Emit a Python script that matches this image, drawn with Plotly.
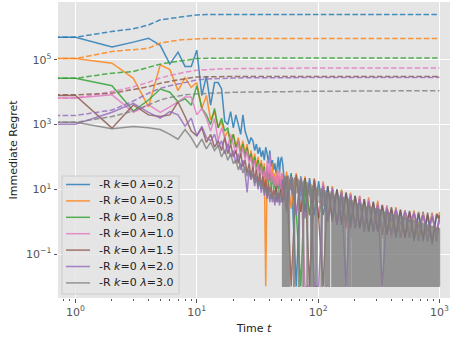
import plotly.graph_objects as go

# ---------------- data (log10 of regret) ----------------
LABELS = ["-R <i>k</i>=0 <i>λ</i>=0.2", "-R <i>k</i>=0 <i>λ</i>=0.5", "-R <i>k</i>=0 <i>λ</i>=0.8",
          "-R <i>k</i>=0 <i>λ</i>=1.0", "-R <i>k</i>=0 <i>λ</i>=1.5", "-R <i>k</i>=0 <i>λ</i>=2.0",
          "-R <i>k</i>=0 <i>λ</i>=3.0"]
COLORS = ["#1f77b4", "#ff7f0e", "#2ca02c", "#e377c2", "#8c564b", "#9467bd", "#7f7f7f"]

X_TICKS = [1, 10, 100, 1000]
X_TICK_TEXT = ["10<sup>0</sup>", "10<sup>1</sup>", "10<sup>2</sup>", "10<sup>3</sup>"]
Y_TICKS = [0.1, 10, 1000, 100000]
Y_TICK_TEXT = ["10<sup>−1</sup>", "10<sup>1</sup>", "10<sup>3</sup>", "10<sup>5</sup>"]

# time steps; 0.5 stands for the t=0 sample (outside a log axis)
T_HEAD = [0.5] + list(range(1, 51))
T_TAIL = [51, 55, 60, 66, 72, 78, 85, 93, 101, 110, 120, 131, 143, 156, 170, 185, 202, 220,
          240, 261, 285, 310, 338, 369, 402, 438, 477, 520, 567, 617, 673, 733, 799, 870, 948, 1000]
T_TAIL_GREY = (list(range(51, 101)) + list(range(102, 201, 2)) +
               list(range(204, 401, 4)) + list(range(408, 1001, 8)))
T_DASH = [0.5, 1, 2, 3, 4, 5, 6, 7, 8, 10, 12, 15, 20, 30, 50, 100, 1000]

BLUE_HEAD = [5.7, 5.7, 5.4, 5.55, 5.67, 5.45, 4.87, 5.24, 4.8, 4.8, 5.3,
             3.9, 4.5, 3.6, 4.3, 4.3, 4.1, 3.1, 3.0, 3.4, 2.9,
             3.3, 3.0, 2.7, 3.3, 2.8, 2.6, 2.4, 2.6, 2.5, 2.2,
             2.4, 2.1, 2.3, 2.0, 2.2, 1.9, 2.3, 2.1, 1.8, 2.2,
             1.7, 1.9, 1.6, 1.8, 1.5, 1.7, 2.0, 1.5, 1.9, 2.0]
ORANGE_HEAD = [5.04, 5.04, 4.9, 4.43, 3.55, 4.85, 4.7, 4.05, 4.45, 4.15, 4.3,
               3.5, 3.9, 3.15, 3.4, 2.9, 3.1, 2.6, 2.8, 2.5, 2.7,
               2.3, 2.6, 2.2, 2.5, 2.1, 2.4, 1.9, 2.2, 1.8, 2.1,
               1.7, 2.0, 1.6, 1.9, 1.5, 1.8, -2.0, 1.7, 1.4, 1.6,
               1.3, 1.8, 1.2, 1.5, 1.1, 1.6, 1.2, 1.4, 1.0, 1.5]
GREEN_HEAD = [4.43, 4.43, 4.2, 3.42, 3.76, 4.1, 4.0, 3.7, 3.8, 3.6, 4.2,
              3.5, 3.3, 3.0, 3.5, 2.9, 3.2, 2.8, 2.9, 2.4, 2.7,
              2.3, 2.5, 2.1, 2.4, 2.0, 2.3, 1.9, 2.1, 1.7, 2.0,
              1.6, 1.9, 1.5, 1.8, 1.4, 1.7, 1.3, 1.6, 1.2, 1.5,
              1.1, 1.4, 1.0, 1.3, 0.9, 1.2, 1.0, 1.3, 0.9, 1.2]
PINK_HEAD = [3.82, 3.82, 3.92, 3.38, 3.62, 3.38, 3.55, 3.7, 3.85, 3.85, 3.3,
             3.5, 3.2, 2.8, 3.2, 2.5, 2.9, 2.6, 2.3, 2.7, 2.4,
             2.1, 2.5, 2.0, 2.3, 1.9, 2.2, 1.8, 2.0, 1.6, 1.9,
             1.5, 1.8, 1.4, 1.7, 1.3, 1.6, 1.2, 1.9, 1.3, 2.1,
             1.2, 1.5, 1.1, 1.4, 1.0, 1.5, 1.1, 1.6, 1.0, 1.4]
BROWN_HEAD = [3.9, 3.9, 2.89, 3.61, 3.3, 3.25, 3.3, 3.7, 3.25, 2.8, 2.65,
              2.9, 2.45, 2.7, 2.3, 2.5, 2.2, 2.6, 2.1, 2.4, 2.0,
              2.2, 1.8, 2.1, 1.7, 1.9, 1.5, 1.8, 1.4, 1.7, 1.3,
              1.6, 1.2, 1.5, 1.1, 1.4, 1.0, 1.3, 0.8, 1.2, 0.9,
              1.1, 0.7, 1.0, 0.8, 1.1, 0.6, 0.9, 0.7, 1.0, 0.8]
PURPLE_HEAD = [3.01, 3.01, 3.38, 3.66, 3.38, 3.2, 3.4, 3.3, 2.95, 3.2, 2.65,
               2.95, 2.6, 2.5, 2.7, 2.3, 2.5, 2.1, 2.4, 2.0, 2.2,
               1.8, 2.1, 1.6, 1.9, 1.5, 0.9, 1.6, 1.3, 1.5, 1.1,
               1.4, 1.0, 1.3, 0.9, 1.2, 0.8, 1.1, 0.7, 1.0, 0.6,
               0.9, 0.6, 0.8, 0.5, 0.9, 0.6, 0.8, 0.5, 0.7, 0.6]
GREY_HEAD = [3.07, 3.07, 2.87, 2.94, 2.9, 2.85, 2.7, 2.55, 2.85, 2.6, 2.3,
             2.55, 2.25, 2.45, 2.2, 2.35, 2.0, 2.2, 1.9, 2.1, 1.8,
             1.9, 1.6, 1.8, 1.5, 1.7, 1.4, 1.6, 1.3, 1.5, 1.2,
             1.4, 1.1, 1.3, 1.0, 1.2, 0.9, 1.1, 0.8, 1.0, 0.7,
             0.9, 0.7, 0.8, 0.6, 0.9, 0.7, 1.0, 0.6, 0.9, 0.7]

BLUE_TAIL = [1.8, 0.5, 1.5, -2.0, 1.4, 0.3, 1.35, 0.2, 1.25, 0.2, 1.1, 0.1, 1.0, 0.0, 0.9, 0.0, 0.8, -0.2,
             0.7, -0.3, 0.6, -0.3, 0.5, -0.4, 0.4, -0.5, 0.35, -0.5, 0.3, -0.6, 0.25, -0.6, 0.2, -0.7, 0.2, 0.05]
ORANGE_TAIL = [0.6, 1.55, 0.4, 1.5, 0.3, 1.4, 0.2, 1.35, 0.1, 1.25, 0.0, 1.1, -0.1, 1.0, -0.2, 0.9, -0.2, 0.8,
               -0.3, 0.75, -0.3, 0.65, -0.4, 0.5, -0.4, 0.45, -0.5, 0.35, -0.5, 0.35, -0.5, 0.3, -0.6, 0.28, -0.6, 0.3]
GREEN_TAIL = [1.3, 0.4, 1.45, 0.3, -2.0, 1.35, 0.2, 1.25, 0.1, 1.15, 0.0, 1.05, -0.1, 0.95, -0.1, 0.85, -0.2, 0.75,
              -0.3, 0.65, -0.3, 0.55, -0.4, 0.45, -0.4, 0.4, -0.5, 0.35, -0.5, 0.3, -0.6, 0.3, -0.6, 0.25, -0.6, 0.2]
PINK_TAIL = [1.5, 0.5, 1.4, 0.3, 1.35, -2.0, -2.0, 1.3, 0.2, 1.2, 0.0, 1.05, -0.1, 0.95, -0.2, 0.85, -0.2, 0.8,
             -0.3, 0.7, -0.3, 0.6, -0.4, 0.5, -0.5, 0.4, -0.5, 0.35, -0.5, 0.3, -0.6, 0.28, -0.6, 0.25, -0.6, 0.15]
BROWN_TAIL = [0.6, 1.4, -2.0, 1.45, 0.3, 1.35, -2.0, 1.3, 0.1, -2.0, 1.1, 0.0, 1.0, -0.1, 0.9, -0.2, 0.8, -0.2,
              0.7, -0.3, 0.62, -0.3, 0.52, -0.4, 0.45, -0.4, 0.38, -0.5, 0.33, -0.5, 0.3, -0.5, 0.28, -0.6, 0.25, 0.1]
PURPLE_TAIL = [1.3, 0.3, 1.4, 0.2, 1.3, 0.1, 1.25, -2.0, -2.0, 1.1, 0.0, 1.0, -0.1, 0.9, -2.0, 0.8, -0.2, 0.7,
               -0.2, 0.6, -0.3, 0.5, -2.0, 0.4, 0.0, 0.35, -0.1, 0.3, 0.0, 0.25, -0.2, 0.2, -0.3, 0.15, -0.3, 0.05]
GREY_TAIL = [
    # t = 51 .. 100
    -2, 1.4, -2, 1.35, -2, 1.4, -2, 1.3, 1.0, 1.35,
    0.9, 1.3, -2, 1.35, 1.1, 1.25, 0.9, 1.3, -2, 1.25,
    1.0, 1.3, 0.8, 1.2, -2, 1.25, 0.9, 1.15, 1.0, 1.2,
    -2, 1.15, 0.9, 1.1, 0.8, 1.15, -2, 1.05, -2, 1.1,
    -2, 1.05, 0.7, 1.0, -2, 1.05, -2, 0.95, 0.8, 1.0,
    # t = 102 .. 200
    0.6, 1.0, -2, 0.95, 0.5, 0.95, -2, 0.9, -2, 0.9,
    -2, 0.85, 0.4, 0.9, -2, 0.85, -2, 0.8, -2, 0.85,
    -2, 0.8, -2, 0.75, -2, 0.8, -2, 0.7, -2, 0.75,
    -2, 0.7, -2, 0.7, 0.0, 0.65, -2, 0.7, -2, 0.65,
    -2, 0.6, -0.5, 0.65, -2, 0.6, -2, 0.55, -2, 0.6,
    # t = 204 .. 400
    -2, 0.55, -2, 0.55, -2, 0.5, -2, 0.52, -2, 0.5,
    -2, 0.45, -2, 0.48, -2, 0.45, -2, 0.42, -2, 0.45,
    -2, 0.4, -2, 0.4, -2, 0.38, -2, 0.35, -2, 0.36,
    -2, 0.32, -2, 0.33, -0.5, 0.3, -2, 0.3, -2, 0.28,
    -2, 0.28, -2, 0.25, -2, 0.26, -2, 0.22, -2, 0.24,
    # t = 408 .. 1000
    -2, 0.2, -2, 0.2, -2, 0.17, -2, 0.17, -2, 0.14,
    -2, 0.14, -2, 0.12, -2, 0.1, -2, 0.1, -2, 0.07,
    -2, 0.06, -2, 0.05, -2, 0.03, -2, 0.02, -2, 0.0,
    -2, 0.0, -2, -0.02, -2, -0.03, -2, -0.05, -2, -0.05,
    -2, -0.07, -2, -0.08, -2, -0.1, -2, -0.1, -2, -0.12,
    -2, -0.12, -2, -0.14, -2, -0.14, -2, -0.15, -2, -0.16,
    -2, -0.17, -2, -0.18, -2, -0.18, -2, -0.2, -2, -0.2,
    -2, -0.2, -2, -0.22, -2,
]

BLUE_DASH = [5.70, 5.70, 5.88, 5.96, 6.08, 6.24, 6.28, 6.32, 6.35, 6.39, 6.40, 6.40, 6.40, 6.40, 6.40, 6.40, 6.40]
ORANGE_DASH = [5.04, 5.04, 5.26, 5.31, 5.36, 5.52, 5.58, 5.61, 5.63, 5.65, 5.66, 5.66, 5.66, 5.66, 5.66, 5.66, 5.66]
GREEN_DASH = [4.43, 4.43, 4.59, 4.64, 4.77, 4.87, 4.92, 4.96, 4.99, 5.04, 5.05, 5.06, 5.06, 5.06, 5.06, 5.06, 5.06]
PINK_DASH = [3.82, 3.82, 4.02, 4.17, 4.31, 4.44, 4.52, 4.58, 4.62, 4.68, 4.70, 4.72, 4.73, 4.74, 4.74, 4.75, 4.75]
BROWN_DASH = [3.92, 3.92, 3.97, 4.09, 4.17, 4.28, 4.34, 4.39, 4.42, 4.47, 4.48, 4.49, 4.49, 4.49, 4.49, 4.49, 4.49]
PURPLE_DASH = [3.28, 3.28, 3.45, 3.73, 3.97, 4.12, 4.20, 4.26, 4.31, 4.38, 4.41, 4.43, 4.44, 4.45, 4.45, 4.46, 4.46]
GREY_DASH = [3.07, 3.07, 3.25, 3.42, 3.61, 3.76, 3.84, 3.89, 3.92, 3.95, 3.97, 3.98, 4.00, 4.01, 4.02, 4.03, 4.05]

SERIES = [
    (BLUE_HEAD, BLUE_TAIL, T_TAIL, BLUE_DASH),
    (ORANGE_HEAD, ORANGE_TAIL, T_TAIL, ORANGE_DASH),
    (GREEN_HEAD, GREEN_TAIL, T_TAIL, GREEN_DASH),
    (PINK_HEAD, PINK_TAIL, T_TAIL, PINK_DASH),
    (BROWN_HEAD, BROWN_TAIL, T_TAIL, BROWN_DASH),
    (PURPLE_HEAD, PURPLE_TAIL, T_TAIL, PURPLE_DASH),
    (GREY_HEAD, GREY_TAIL, T_TAIL_GREY, GREY_DASH),
]

# ---------------- layout constants (pixels) ----------------
W, H = 451, 339
ML, MR, MT, MB = 58, 1, 2, 41
PW, PH = W - ML - MR, H - MT - MB


def px_x(px):
    return (px - ML) / PW


def px_y(py):
    return (H - MB - py) / PH


def rgba(hex_col, a):
    h = hex_col.lstrip("#")
    return "rgba(%d,%d,%d,%.2f)" % (int(h[0:2], 16), int(h[2:4], 16), int(h[4:6], 16), a)


# ---------------- figure ----------------
fig = go.Figure()
for (head, tail, ttail, dash), name, col in zip(SERIES, LABELS, COLORS):
    dense = ttail is T_TAIL_GREY
    hx, hy = list(T_HEAD[:len(head)]), [10 ** v for v in head[:len(T_HEAD)]]
    tx, ty = list(ttail[:len(tail)]), [10 ** v for v in tail[:len(ttail)]]
    if dense:
        # the long, very dense tail (several samples per pixel) is drawn as steps so
        # that it renders as the solid band seen in the reference
        fig.add_trace(go.Scatter(x=hx, y=hy, mode="lines", name=name, opacity=0.8, showlegend=False,
                                 line=dict(color=col, width=1.5)))
        fig.add_trace(go.Scatter(x=hx[-1:] + tx, y=hy[-1:] + ty, mode="lines", name=name, opacity=0.8,
                                 showlegend=False, line=dict(color=col, width=1.5, shape="hv",
                                                             simplify=False)))
    else:
        fig.add_trace(go.Scatter(x=hx + tx, y=hy + ty, mode="lines", name=name, opacity=0.8,
                                 showlegend=False, line=dict(color=col, width=1.5, simplify=False)))
    fig.add_trace(go.Scatter(x=T_DASH, y=[10 ** v for v in dash], mode="lines", showlegend=False,
                             opacity=0.8, line=dict(color=col, width=1.5, dash="5.5px,2.4px")))

axis_common = dict(type="log", showgrid=True, gridcolor="white", gridwidth=1, zeroline=False,
                   showline=False, ticks="outside", ticklen=3.5, tickwidth=1, tickcolor="#555555",
                   tickmode="array", tickfont=dict(size=11, color="#555555"))
MINOR_X = [m * 10 ** d for d in (-1, 0, 1, 2) for m in range(2, 10)]
fig.update_xaxes(range=[-0.144, 3.087], tickvals=X_TICKS, ticktext=X_TICK_TEXT, **axis_common,
                 minor=dict(ticks="outside", ticklen=2, tickwidth=0.8, tickcolor="#555555",
                            tickmode="array", tickvals=MINOR_X, showgrid=False),
                 title=dict(text="Time <i>t</i>", font=dict(size=11, color="#222222"), standoff=6))
fig.update_yaxes(range=[-2.36, 6.79], tickvals=Y_TICKS, ticktext=Y_TICK_TEXT, **axis_common,
                 title=dict(text="Immediate Regret", font=dict(size=11, color="#222222"), standoff=6))

# legend drawn as a framed box in the lower-left corner (matplotlib style)
LEG_BOX = (62, 176, 179, 294)       # left, top, right, bottom in px
LEG_ROW0, LEG_DY = 184.5, 16.4
shapes = [dict(type="rect", xref="paper", yref="paper", layer="above",
               x0=px_x(LEG_BOX[0]), x1=px_x(LEG_BOX[2]), y0=px_y(LEG_BOX[3]), y1=px_y(LEG_BOX[1]),
               fillcolor="rgba(229,229,229,0.8)", line=dict(color="#CCCCCC", width=1))]
annotations = []
for i, (name, col) in enumerate(zip(LABELS, COLORS)):
    yc = LEG_ROW0 + i * LEG_DY
    shapes.append(dict(type="line", xref="paper", yref="paper", layer="above",
                       x0=px_x(66), x1=px_x(90), y0=px_y(yc), y1=px_y(yc),
                       line=dict(color=rgba(col, 0.8), width=1.5)))
    annotations.append(dict(text=name, xref="paper", yref="paper", x=px_x(97), y=px_y(yc),
                            xanchor="left", yanchor="middle", showarrow=False,
                            font=dict(size=11, color="#222222")))

fig.update_layout(
    width=W, height=H,
    margin=dict(l=ML, r=MR, t=MT, b=MB, autoexpand=False),
    plot_bgcolor="#E5E5E5", paper_bgcolor="white",
    font=dict(family="DejaVu Sans", size=11, color="#222222"),
    showlegend=False, shapes=shapes, annotations=annotations,
)

fig.write_html("out.html", config={"displayModeBar": False},
               post_script="document.body.style.margin='0px';")
